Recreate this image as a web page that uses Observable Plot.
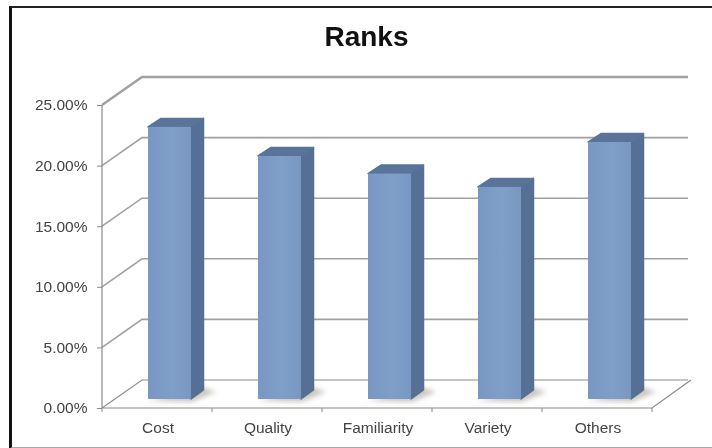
<!DOCTYPE html>
<html>
<head>
<meta charset="utf-8">
<script src="https://cdn.jsdelivr.net/npm/d3@7"></script>
<script src="https://cdn.jsdelivr.net/npm/@observablehq/plot@0.6"></script>
<style>
html,body{margin:0;padding:0;background:#fff;}
#page{position:relative;width:712px;height:448px;overflow:hidden;font-family:"Liberation Sans",Arial,sans-serif;}
#frame{position:absolute;left:9px;top:6px;width:710px;height:439px;border-left:3px solid #111;border-top:2px solid #222;border-bottom:2px solid #aaa;box-sizing:content-box;}
#title{position:absolute;left:0;width:733px;top:21px;text-align:center;font-size:28px;font-weight:bold;color:#111;line-height:32px;filter:blur(0.5px);}
#chart{position:absolute;left:0;top:0;filter:blur(0.5px);}
</style>
</head>
<body>
<div id="page"><div id="frame"></div><div id="title">Ranks</div><div id="chart"></div></div>
<script>
const categories = ["Cost", "Quality", "Familiarity", "Variety", "Others"];
const shares = [22.45, 20.05, 18.6, 17.5, 21.2];
const yTicks = [0, 5, 10, 15, 20, 25];

const wallDepth = [40, -28];
const barDepth = [13, -9];
const barOffset = [12, -9];
const data = categories.map((name, i) => ({name, share: shares[i]}));

const ns = "http://www.w3.org/2000/svg";
const el = (tag, attrs) => {
  const n = document.createElementNS(ns, tag);
  for (const k in attrs) n.setAttribute(k, attrs[k]);
  return n;
};
const bw = (x) => typeof x.bandwidth === "function" ? x.bandwidth() : x.bandwidth;
const poly = (pts) => pts.map((p) => p.join(",")).join(" ");

function defs() {
  const g = el("defs", {});
  const lg = el("linearGradient", {id: "front", x1: 0, x2: 1, y1: 0, y2: 0});
  [[0, "#7898c3"], [0.55, "#7f9ec8"], [1, "#7897c1"]].forEach(([o, c]) =>
    lg.appendChild(el("stop", {offset: o, "stop-color": c})));
  g.appendChild(lg);
  const f = el("filter", {id: "soft", x: "-50%", y: "-50%", width: "200%", height: "200%"});
  f.appendChild(el("feGaussianBlur", {stdDeviation: 2.5}));
  g.appendChild(f);
  return g;
}

function walls(index, {x, y}, values, {marginLeft, width, marginRight}) {
  const g = el("g", {});
  const x0 = marginLeft, x1 = width - marginRight;
  const [dx, dy] = wallDepth;
  yTicks.forEach((t) => {
    const yy = y(t);
    const top = t === yTicks[yTicks.length - 1];
    g.appendChild(el("polyline", {
      points: poly([[x0, yy], [x0 + dx, yy + dy], [x1 + dx - 4, yy + dy]]),
      fill: "none",
      stroke: t === 0 ? "#8a8a8a" : "#a0a0a0",
      "stroke-width": top ? 2.4 : t === 0 ? 1.1 : 1.6
    }));
  });
  g.appendChild(el("polyline", {
    points: poly([[x0, y(0)], [x1, y(0)], [x1 + dx - 1, y(0) + dy]]),
    fill: "none", stroke: "#8a8a8a", "stroke-width": 1.2
  }));
  g.appendChild(el("line", {x1: x0, x2: x0, y1: y(yTicks[yTicks.length - 1]), y2: y(0), stroke: "#8a8a8a", "stroke-width": 1.2}));
  const step = (x1 - x0) / categories.length;
  for (let i = 0; i <= categories.length; i++) {
    g.appendChild(el("line", {x1: x0 + i * step, x2: x0 + i * step, y1: y(0), y2: y(0) + 4, stroke: "#8a8a8a", "stroke-width": 1}));
  }
  return g;
}

function shadows(index, {x, y}) {
  const g = el("g", {filter: "url(#soft)"});
  data.forEach((d) => {
    const l = x(d.name) + barOffset[0];
    const r = l + bw(x) + barDepth[0];
    const b = y(0) + barOffset[1];
    g.appendChild(el("polygon", {
      points: poly([[l, b + 2], [r - 12, b + 3], [r + 12, b - 7], [r - 2, b - 12]]),
      fill: "#a8a095", opacity: 0.6
    }));
  });
  return g;
}

function faces(index, {x, y}) {
  const g = el("g", {"stroke-linejoin": "round", "stroke-width": 1.5});
  const [ox, oy] = barOffset, [dx, dy] = barDepth;
  data.forEach((d) => {
    const l = x(d.name) + ox, r = l + bw(x);
    const t = y(d.share) + oy, b = y(0) + oy;
    g.appendChild(el("polygon", {
      points: poly([[r, t], [r + dx - 0.5, t + dy + 0.5], [r + dx - 0.5, b + dy], [r, b]]),
      fill: "#556f95", stroke: "#556f95"
    }));
    g.appendChild(el("polygon", {
      points: poly([[l, t], [l + dx, t + dy + 0.5], [r + dx - 0.5, t + dy + 0.5], [r, t]]),
      fill: "#5a7398", stroke: "#5a7398"
    }));
  });
  return g;
}

const chart = Plot.plot({
  width: 712,
  height: 448,
  marginLeft: 102,
  marginRight: 60,
  marginTop: 105,
  marginBottom: 40,
  style: {background: "transparent", fontFamily: "'Liberation Sans', Arial, sans-serif", fontSize: "15.5px", color: "#444"},
  x: {domain: categories, paddingInner: 0.61, paddingOuter: 0.305, label: null},
  y: {domain: [0, 25], label: null},
  marks: [
    () => defs(),
    walls,
    shadows,
    faces,
    Plot.barY(data, {x: "name", y: "share", fill: "url(#front)", dx: barOffset[0], dy: barOffset[1]}),
    Plot.axisY({ticks: yTicks, tickFormat: (d) => d.toFixed(2) + "%", tickSize: 5, tickPadding: 10, stroke: "#8a8a8a", fill: "#444", fontSize: 15.5, label: null}),
    Plot.axisX({tickSize: 0, tickPadding: 13, fill: "#444", fontSize: 15.5, label: null})
  ]
});
document.getElementById("chart").appendChild(chart);
</script>
</body>
</html>
